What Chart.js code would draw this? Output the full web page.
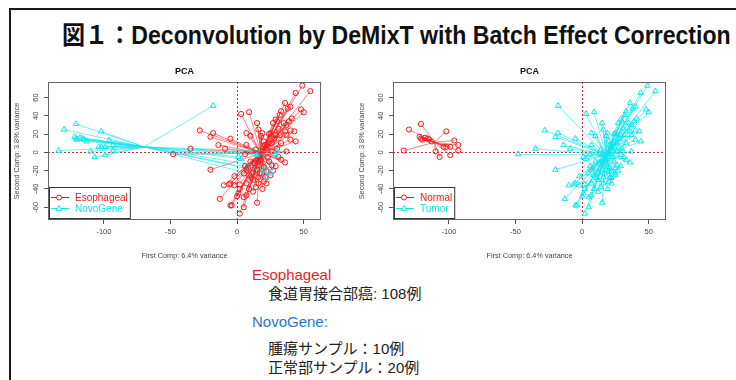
<!DOCTYPE html>
<html>
<head>
<meta charset="utf-8">
<script src="https://cdn.jsdelivr.net/npm/chart.js@4.4.1/dist/chart.umd.min.js"></script>
<style>
  body { margin: 0; width: 736px; height: 380px; background: #fff; position: relative; overflow: hidden;
         font-family: "Liberation Sans", Arial, "Noto Sans CJK JP", sans-serif; }
  #frame { position: absolute; left: 9px; top: 8px; width: 760px; height: 400px; border: 2px solid #1a1a1a; }
  #title { position: absolute; left: 62px; top: 15px; font-weight: bold; font-size: 25px; color: #111;
           white-space: nowrap; transform-origin: 0 0; }
  .panel { position: absolute; top: 60px; width: 330px; height: 200px; }
  #notes { position: absolute; left: 252px; top: 266px; color: #222; font-size: 15px; line-height: 18px; }
  #notes div { white-space: nowrap; }
  .ind { padding-left: 16px; }
  .gap { height: 10px; }
  .gap2 { height: 8px; }
  .jp { font-family: "Noto Sans CJK JP", sans-serif; }
</style>
</head>
<body>
<div id="frame"></div>
<div id="title">図１：Deconvolution by DeMixT with Batch Effect Correction</div>
<div class="panel" style="left:0px"><canvas id="pcaBatch" width="330" height="200"></canvas></div>
<div class="panel" style="left:345px"><canvas id="pcaType" width="330" height="200"></canvas></div>
<div id="notes">
  <div style="color:#ee1c1c">Esophageal</div>
  <div class="ind"><span class="jp">食道胃接合部癌</span>: 108<span class="jp">例</span></div>
  <div class="gap"></div>
  <div style="color:#1f78c8">NovoGene:</div>
  <div class="gap2"></div>
  <div class="ind"><span class="jp">腫瘍サンプル：</span>10<span class="jp">例</span></div>
  <div class="ind"><span class="jp">正常部サンプル：</span>20<span class="jp">例</span></div>
</div>

<script>
// ── Data (PC1, PC2) ──────────────────────────────────────────────────────────
const ESOPH_X = [49, 55, 44, 36, 40, 38, 33, 48, 50, 32, 41, 39, 30, 35, 27, 37, 29, 40, 36, 31,
                 25, 24, 32, 29, 37, 43, 44, 40, 9, 3, 15, 16, 19, 7, 10, -28, -18, -20, -5, -14,
                 -9, -35, -48, 7, 6, 30, 37, 26, 22, 26, 20, 28, 33, 23, 14, 21, -20, 6, 8, 15,
                 20, 26, 29, 33, 36, 22, 25, 21, 17, 11, 7, 5, -2, -5, -10, -2, 2, 7, 12, 16,
                 20, 22, 14, 9, 2, 1, 12, 7, 0, 5, -5, -4, -13, 5, 15, 2, -6, 10, 13, 18,
                 24, 16, 19, 27, 12, 9, 31, 18];
const ESOPH_Y = [73, 67, 65, 54, 50, 48, 45, 47, 44, 41, 37, 34, 34, 32, 32, 30, 36, 24, 23, 26,
                 21, 20, 19, 19, 19, 23, 12, 14, 44, 42, 32, 25, 21, 21, 18, 24, 21, 17, 15, 8,
                 4, 4, -2, 8, -2, 4, 1, 1, 5, 10, 12, 15, 10, -5, 3, 8, -19, -15, -17, -19,
                 -16, -14, -15, -8, -11, -21, -25, -27, -23, -28, -19, -23, -26, -34, -36, -36, -35, -34, -30, -34,
                 -32, -34, -38, -40, -40, -45, -43, -47, -48, -49, -58, -58, -51, -60, -55, -67, -35, -10, -12, -8,
                 -10, -27, -40, -20, -22, -25, -5, 18];
const NOVO_TUMOR_X = [-18, 1, 3, 15, 22, 25, 25, 29, 30, 20];
const NOVO_TUMOR_Y = [51, -5, -7, -3, -28, -23, -17, -3, 1, -20];
const NOVO_NORMAL_X = [-121, -130, -102, -134, -122, -120, -118, -116, -121, -115,
                       -113, -96, -93, -99, -102, -104, -110, -93, -99, -107];
const NOVO_NORMAL_Y = [31, 25, 23, 2, 17, 14, 16, 15, 15, 14,
                       12, 13, 8, 6, 6, 6, 1, 2, -3, -5];

// group centres the spider lines run to
const CENTER_ESOPH  = [18, -1];
const CENTER_NOVO   = [-70, 6];
const CENTER_NORMAL = [-111, 11];
const CENTER_TUMOR  = [18, -3];

const X_TICKS = [-100, -50, 0, 50];
const Y_TICKS = [-60, -40, -20, 0, 20, 40, 60];
const X_RANGE = [-142, 63];
const Y_RANGE = [-74, 77];
const X_TITLE = 'First Comp: 6.4% variance';
const Y_TITLE = 'Second Comp: 3.8% variance';

const RED  = '#f01818';
const CYAN = '#12e4ec';
const FONT = '"Liberation Sans", Arial, sans-serif';

const pts = (xs, ys) => xs.map((x, i) => ({ x, y: ys[i] }));
const esoph  = pts(ESOPH_X, ESOPH_Y);
const tumor  = pts(NOVO_TUMOR_X, NOVO_TUMOR_Y);
const normal = pts(NOVO_NORMAL_X, NOVO_NORMAL_Y);

// ── spider segments: point -> centre, broken with a gap ──────────────────────
function spider(points, c) {
  const out = [];
  points.forEach(p => { out.push(p, { x: c[0], y: c[1] }, { x: null, y: null }); });
  return out;
}

// ── R-style box, title, rotated y labels and legend ──────────────────────────
const rBase = {
  id: 'rBase',
  afterDraw(chart, args, opts) {
    const { ctx, chartArea: a, scales: { y } } = chart;
    ctx.save();
    ctx.strokeStyle = '#666';
    ctx.lineWidth = 1;
    ctx.strokeRect(a.left + 0.5, a.top + 0.5, a.width - 1, a.height - 1);

    ctx.fillStyle = '#111';
    ctx.font = 'bold 9px ' + FONT;
    ctx.textAlign = 'center';
    ctx.textBaseline = 'middle';
    ctx.fillText(opts.title, (a.left + a.right) / 2, a.top - 10);

    ctx.fillStyle = '#444';
    ctx.font = '7.5px ' + FONT;
    Y_TICKS.forEach(v => {
      ctx.save();
      ctx.translate(a.left - 12, y.getPixelForValue(v));
      ctx.rotate(-Math.PI / 2);
      ctx.fillText(String(v), 0, 0);
      ctx.restore();
    });

    // legend, bottom left
    const items = opts.items;
    ctx.font = '10px ' + FONT;
    const tw = Math.max(...items.map(it => ctx.measureText(it.label).width));
    const bw = 28 + tw, bh = 31;
    const bx = a.left + 1, by = a.bottom - 2 - bh;
    ctx.fillStyle = '#fff';
    ctx.fillRect(bx, by, bw, bh);
    ctx.strokeStyle = '#333';
    ctx.strokeRect(bx + 0.5, by + 0.5, bw, bh);
    items.forEach((it, i) => {
      const cy = by + 10.5 + i * 11;
      ctx.strokeStyle = it.color;
      ctx.beginPath();
      ctx.moveTo(bx + 2, cy); ctx.lineTo(bx + 20, cy);
      ctx.stroke();
      ctx.beginPath();
      if (it.style === 'circle') {
        ctx.arc(bx + 10, cy, 2.5, 0, Math.PI * 2);
      } else {
        ctx.moveTo(bx + 10, cy - 3); ctx.lineTo(bx + 13, cy + 2.2); ctx.lineTo(bx + 7, cy + 2.2); ctx.closePath();
      }
      ctx.fillStyle = '#fff';
      ctx.fill();
      ctx.stroke();
      ctx.fillStyle = it.color;
      ctx.textAlign = 'left';
      ctx.fillText(it.label, bx + 26, cy + 0.5);
    });
    ctx.restore();
  }
};

function axis(ticks, range, title, isX) {
  return {
    type: 'linear',
    min: range[0],
    max: range[1],
    afterBuildTicks: s => { s.ticks = ticks.map(v => ({ value: v })); },
    afterFit: s => { if (isX) s.height = 40; else s.width = 48; },
    ticks: {
      color: isX ? '#444' : 'rgba(0,0,0,0)',
      font: { family: FONT, size: 7.5 },
      padding: 3,
      autoSkip: false,
      maxRotation: 0,
      callback: v => String(v)
    },
    grid: {
      color: c => (c.tick && c.tick.value === 0 ? '#c62a2a' : 'rgba(0,0,0,0)'),
      tickColor: '#555',
      tickLength: 4,
      lineWidth: 1
    },
    border: { display: false, dash: [2, 2] },
    title: {
      display: true,
      text: title,
      color: '#444',
      font: { family: FONT, size: 7.3 },
      padding: isX ? { top: 5, bottom: 0 } : { top: 13, bottom: 0 }
    }
  };
}

function makePCA(id, groups) {
  const datasets = [];
  groups.forEach((g, i) => {
    datasets.push({
      label: g.label + ' links',
      data: spider(g.points, g.center),
      showLine: true,
      spanGaps: false,
      borderColor: g.lineColor,
      borderWidth: 1,
      pointRadius: 0,
      order: 10 - i
    });
  });
  groups.forEach((g, i) => {
    datasets.push({
      label: g.label,
      data: g.points,
      pointStyle: g.style,
      pointRadius: g.style === 'triangle' ? 3.2 : 2.6,
      borderColor: g.color,
      backgroundColor: 'rgba(0,0,0,0)',
      borderWidth: 1,
      order: 5 - i
    });
  });
  return new Chart(document.getElementById(id), {
    type: 'scatter',
    data: { datasets },
    options: {
      responsive: false,
      animation: false,
      layout: { padding: { top: 22, right: 9, left: 0, bottom: 0 } },
      plugins: {
        legend: { display: false },
        tooltip: { enabled: false },
        rBase: {
          title: 'PCA',
          items: groups.map(g => ({ label: g.label, color: g.color, style: g.style }))
        }
      },
      scales: {
        x: axis(X_TICKS, X_RANGE, X_TITLE, true),
        y: axis(Y_TICKS, Y_RANGE, Y_TITLE, false)
      }
    },
    plugins: [rBase]
  });
}

// ── Left: by batch ───────────────────────────────────────────────────────────
makePCA('pcaBatch', [
  { label: 'Esophageal', points: esoph, center: CENTER_ESOPH, color: RED, lineColor: 'rgba(240,30,30,0.55)', style: 'circle' },
  { label: 'NovoGene', points: tumor.concat(normal), center: CENTER_NOVO, color: CYAN, lineColor: 'rgba(20,228,236,0.6)', style: 'triangle' }
]);

// ── Right: by tissue type ────────────────────────────────────────────────────
makePCA('pcaType', [
  { label: 'Normal', points: normal, center: CENTER_NORMAL, color: RED, lineColor: 'rgba(240,30,30,0.55)', style: 'circle' },
  { label: 'Tumor', points: esoph.concat(tumor), center: CENTER_TUMOR, color: CYAN, lineColor: 'rgba(20,228,236,0.6)', style: 'triangle' }
]);

// ── squeeze the title to the width it has on the slide ──────────────────────
const t = document.getElementById('title');
t.style.transform = 'scaleX(' + (669 / t.offsetWidth) + ')';
</script>
</body>
</html>
